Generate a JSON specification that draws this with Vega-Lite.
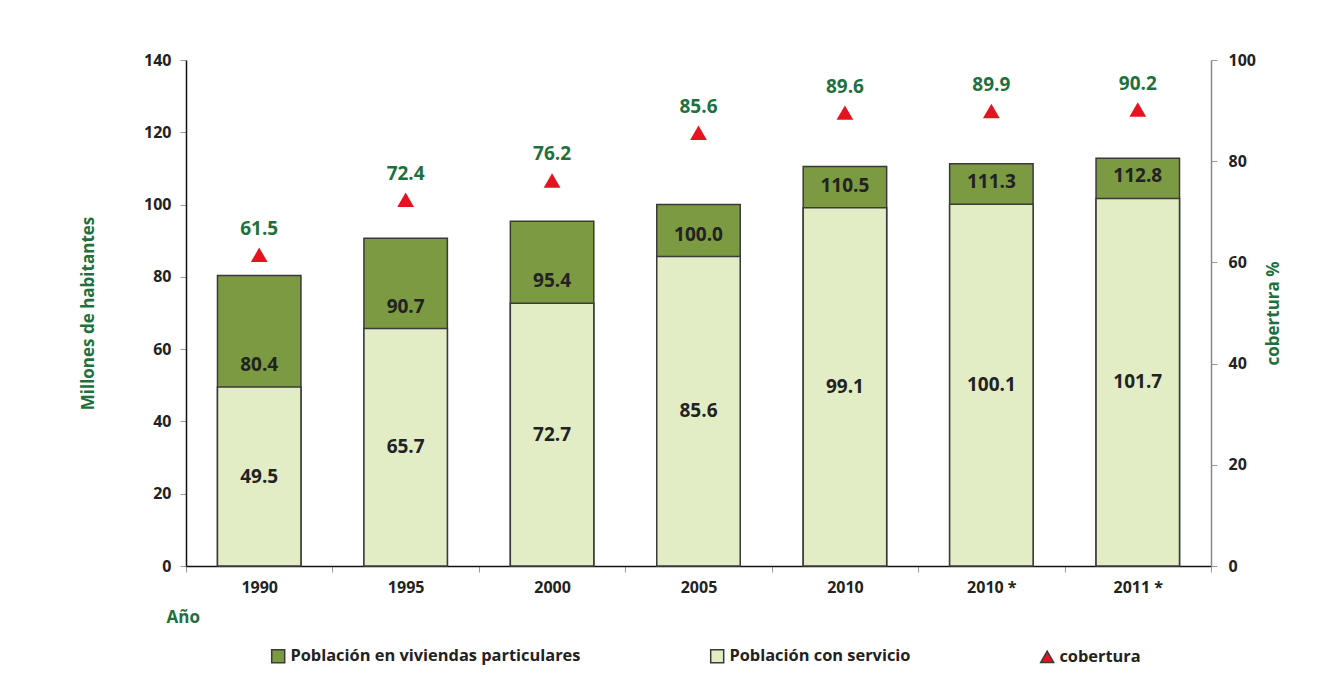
{
  "$schema": "https://vega.github.io/schema/vega-lite/v6.json",
  "width": 1025,
  "height": 506,
  "autosize": {"type": "none"},
  "padding": {"left": 186, "top": 60, "right": 111, "bottom": 132},
  "background": "white",
  "data": {"values": [
    {"anio": "1990", "total": 80.4, "servicio": 49.5, "cobertura": 61.5},
    {"anio": "1995", "total": 90.7, "servicio": 65.7, "cobertura": 72.4},
    {"anio": "2000", "total": 95.4, "servicio": 72.7, "cobertura": 76.2},
    {"anio": "2005", "total": 100.0, "servicio": 85.6, "cobertura": 85.6},
    {"anio": "2010", "total": 110.5, "servicio": 99.1, "cobertura": 89.6},
    {"anio": "2010 *", "total": 111.3, "servicio": 100.1, "cobertura": 89.9},
    {"anio": "2011 *", "total": 112.8, "servicio": 101.7, "cobertura": 90.2}
  ]},
  "config": {
    "view": {"stroke": null},
    "font": "Open Sans",
    "axis": {
      "grid": false,
      "labelFont": "Open Sans",
      "labelFontWeight": "bold",
      "labelFontSize": 16,
      "labelColor": "#222222",
      "titleFont": "Open Sans",
      "titleFontWeight": "bold",
      "titleFontSize": 17,
      "titleColor": "#1e7040",
      "tickColor": "#999999",
      "tickSize": 6,
      "domainColor": "#111111",
      "domainWidth": 1.5
    },
    "legend": {
      "labelFont": "Open Sans",
      "labelFontWeight": "bold",
      "labelFontSize": 16.4,
      "labelColor": "#222222",
      "labelLimit": 0
    }
  },
  "encoding": {
    "x": {
      "field": "anio",
      "type": "nominal",
      "sort": null,
      "scale": {"paddingInner": 0, "paddingOuter": 0},
      "axis": {
        "title": "Año",
        "labelAngle": 0,
        "labelPadding": 7,
        "tickBand": "extent",
        "titleAnchor": "start",
        "titleAlign": "left",
        "titleBaseline": "middle",
        "titleX": -20,
        "titleY": 51
      }
    }
  },
  "layer": [
    {
      "layer": [
        {
          "mark": {"type": "bar", "width": {"band": 0.57}, "stroke": "#3a3a3a", "strokeWidth": 1.5},
          "encoding": {
            "y": {
              "field": "total",
              "type": "quantitative",
              "title": "Millones de habitantes",
              "scale": {"domain": [0, 140]},
              "axis": {
                "values": [0, 20, 40, 60, 80, 100, 120, 140],
                "labelPadding": 9,
                "titlePadding": 46
              }
            },
            "color": {
              "datum": "Población en viviendas particulares",
              "type": "nominal",
              "scale": {
                "domain": ["Población en viviendas particulares", "Población con servicio", "cobertura"],
                "range": ["#7b9a41", "#e2edc6", "#e5131d"]
              },
              "legend": {
                "title": null,
                "orient": "none",
                "direction": "horizontal",
                "legendX": 84,
                "legendY": 588,
                "columnPadding": 126,
                "symbolSize": 169,
                "labelOffset": 4,
                "encode": {
                  "symbols": {
                    "update": {
                      "stroke": {"signal": "datum.value === 'cobertura' ? '#e5131d' : '#333333'"},
                      "strokeWidth": {"value": 1.5}
                    }
                  }
                }
              }
            }
          }
        },
        {
          "mark": {"type": "bar", "width": {"band": 0.57}, "stroke": "#3a3a3a", "strokeWidth": 1.5},
          "encoding": {
            "y": {"field": "servicio", "type": "quantitative", "title": "Millones de habitantes"},
            "color": {"datum": "Población con servicio", "type": "nominal"}
          }
        },
        {
          "mark": {"type": "text", "dy": -22, "fontSize": 19, "fontWeight": "bold", "font": "Open Sans", "color": "#222222"},
          "encoding": {
            "y": {"field": "servicio", "type": "quantitative", "title": "Millones de habitantes"},
            "text": {"field": "total", "type": "quantitative", "format": ".1f"}
          }
        },
        {
          "transform": [{"calculate": "datum.servicio / 2", "as": "medio"}],
          "mark": {"type": "text", "fontSize": 19, "fontWeight": "bold", "font": "Open Sans", "color": "#222222"},
          "encoding": {
            "y": {"field": "medio", "type": "quantitative", "title": "Millones de habitantes"},
            "text": {"field": "servicio", "type": "quantitative", "format": ".1f"}
          }
        }
      ]
    },
    {
      "layer": [
        {
          "mark": {"type": "point", "filled": true, "opacity": 1, "size": 280},
          "encoding": {
            "y": {
              "field": "cobertura",
              "type": "quantitative",
              "title": "cobertura %",
              "scale": {"domain": [0, 100]},
              "axis": {
                "orient": "right",
                "titleAngle": 270,
                "values": [0, 20, 40, 60, 80, 100],
                "labelPadding": 11,
                "titlePadding": 27,
                "domainColor": "#888888"
              }
            },
            "color": {"datum": "cobertura", "type": "nominal"},
            "shape": {
              "datum": "cobertura",
              "type": "nominal",
              "scale": {
                "domain": ["Población en viviendas particulares", "Población con servicio", "cobertura"],
                "range": ["square", "square", "triangle-up"]
              },
              "legend": {"title": null}
            }
          }
        },
        {
          "mark": {"type": "text", "dy": -26, "fontSize": 19, "fontWeight": "bold", "font": "Open Sans", "color": "#1e7040"},
          "encoding": {
            "y": {"field": "cobertura", "type": "quantitative", "title": "cobertura %"},
            "text": {"field": "cobertura", "type": "quantitative", "format": ".1f"}
          }
        }
      ]
    }
  ],
  "resolve": {"scale": {"y": "independent"}}
}
